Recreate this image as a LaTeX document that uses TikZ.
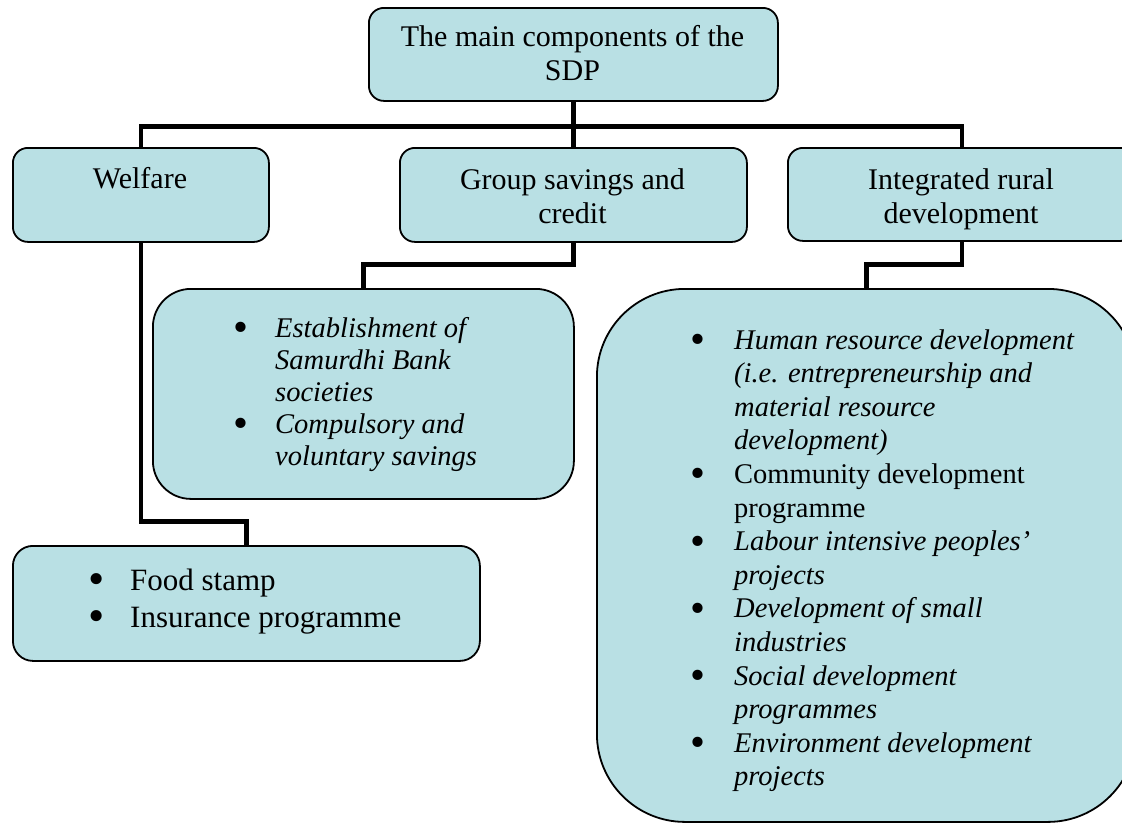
\documentclass[tikz,border=0pt]{standalone}
\usepackage{fontspec}
\usepackage{graphicx}
\setmainfont{Liberation Serif}
\usetikzlibrary{backgrounds}
\definecolor{boxfill}{RGB}{185,224,228}
\tikzset{
  box/.style={rectangle, draw=black, line width=1.8pt, fill=boxfill,
    inner sep=0pt, anchor=north west},
  link/.style={draw=black, line width=4.8pt},
  head/.style={anchor=base, inner sep=0pt,
    font=\fontsize{30}{34.5}\selectfont},
  listtext/.style={anchor=base west, inner sep=0pt},
}
% list bullet: a larger dot set in a fixed-width slot
\newcommand{\bul}[1]{\makebox[#1][l]{\raisebox{-0.16em}{\scalebox{1.5}{\textbullet}}}}
\newcommand{\centred}[1]{\begin{tabular}[t]{@{}c@{}}#1\end{tabular}}
\begin{document}
\begin{tikzpicture}[x=1pt,y=-1pt]
\useasboundingbox (0,0) rectangle (1122,823);
\clip (0,0) rectangle (1122,823);

% boxes
\node[box, minimum width=409pt, minimum height=93pt, rounded corners=15pt] (top) at (368,7) {};
\node[box, minimum width=256pt, minimum height=94pt, rounded corners=15pt] (welfare) at (12,147) {};
\node[box, minimum width=347pt, minimum height=94pt, rounded corners=15pt] (group) at (399,147) {};
\node[box, minimum width=348pt, minimum height=93pt, rounded corners=15pt] (integ) at (787,147) {};
\node[box, minimum width=421pt, minimum height=210pt, rounded corners=38pt] (savings) at (152,288) {};
\node[box, minimum width=539pt, minimum height=533pt, rounded corners=88pt] (big) at (596,288) {};
\node[box, minimum width=467pt, minimum height=115pt, rounded corners=20pt] (food) at (12,545) {};

% connectors
\begin{pgfonlayer}{background}
\draw[link] (top.south) -- ++(0,25) -| (welfare.north);
\draw[link] (top.south) -- ++(0,25) -| (group.north);
\draw[link] (top.south) -- ++(0,25) -| (integ.north);
\draw[link] (group.south) -- ++(0,22) -| (savings.north);
\draw[link] (integ.south) -- ++(0,23) -| (big.north);
\draw[link] (welfare.south) -- ++(0,279) -| (food.north);
\end{pgfonlayer}

% headings
\node[head] (toptext) at (572.5,46) {\centred{The main components of the\\SDP}};
\node[head] (welfaretext) at (140,188) {Welfare};
\node[head] (grouptext) at (572.5,189) {\centred{Group savings and\\credit}};
\node[head] (integtext) at (961,189) {\centred{Integrated rural\\development}};

% lists
\node[listtext, font=\fontsize{28.5}{32}\selectfont] (savingslist) at (233,337) {%
\begin{tabular}[t]{@{}l@{}l@{}}
\bul{42pt} & \textit{Establishment of}\\
 & \textit{Samurdhi Bank}\\
 & \textit{societies}\\
\bul{42pt} & \textit{Compulsory and}\\
 & \textit{voluntary savings}
\end{tabular}};

\node[listtext, font=\fontsize{28.5}{33.6}\selectfont] (biglist) at (690,349) {%
\begin{tabular}[t]{@{}l@{}l@{}}
\bul{44pt} & \textit{Human resource development}\\
 & \textit{(i.e. entrepreneurship and}\\
 & \textit{material resource}\\
 & \textit{development)}\\
\bul{44pt} & Community development\\
 & programme\\
\bul{44pt} & \textit{Labour intensive peoples’}\\
 & \textit{projects}\\
\bul{44pt} & \textit{Development of small}\\
 & \textit{industries}\\
\bul{44pt} & \textit{Social development}\\
 & \textit{programmes}\\
\bul{44pt} & \textit{Environment development}\\
 & \textit{projects}
\end{tabular}};

\node[listtext, font=\fontsize{31}{37}\selectfont] (foodlist) at (88,590) {%
\begin{tabular}[t]{@{}l@{}l@{}}
\bul{42pt} & Food stamp\\
\bul{42pt} & Insurance programme
\end{tabular}};
\end{tikzpicture}
\end{document}
